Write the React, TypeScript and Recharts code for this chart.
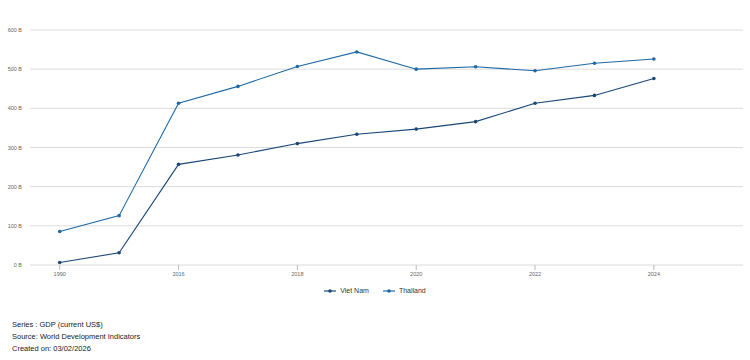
import React from "react";
import { LineChart, Line, XAxis, YAxis, CartesianGrid } from "recharts";

const years = ["1990", "2000", "2016", "2017", "2018", "2019", "2020", "2021", "2022", "2023", "2024", "2025"];
const vietNam: (number | null)[] = [6.5, 31.2, 257, 281, 310, 334, 347, 366, 413, 433, 476, null];
const thailand: (number | null)[] = [85.6, 126, 413, 456, 507, 544, 500, 506, 496, 515, 526, null];
const yTicks = [0, 100, 200, 300, 400, 500, 600];
const footnotes = ["Series : GDP (current US$)", "Source: World Development Indicators", "Created on: 03/02/2026"];

const VN_COLOR = "#1a4775";
const TH_COLOR = "#1f6aa6";

const data = years.map((y, i) => ({ year: y, vn: vietNam[i], th: thailand[i] }));

const FONT = "'Liberation Sans', Arial, sans-serif";

const YTick = (props: any) => {
  const { x, y, payload } = props;
  return (
    <text x={x} y={y} dy={2} textAnchor="end" fontSize={5.5} fill="#666" fontFamily={FONT}>
      {`${payload.value} B`}
    </text>
  );
};

const LegendIcon = ({ color }: { color: string }) => (
  <svg width={12} height={6} style={{ marginRight: 4 }}>
    <line x1={0} y1={3} x2={12} y2={3} stroke={color} strokeWidth={1.2} />
    <circle cx={6} cy={3} r={1.8} fill={color} />
  </svg>
);

export default function App() {
  return (
    <div style={{ position: "absolute", left: 0, top: 0, width: 750, height: 360, background: "#fff", fontFamily: FONT }}>
      <LineChart width={750} height={360} data={data} margin={{ top: 30, right: 7, bottom: 75, left: 0 }}>
        <CartesianGrid horizontal vertical={false} stroke="#dcdcdc" strokeWidth={1} />
        <XAxis
          dataKey="year"
          scale="band"
          interval={1}
          axisLine={false}
          tickLine={{ stroke: "#bbb" }}
          tickSize={5}
          height={20}
          tick={{ fontSize: 5.5, fill: "#666", fontFamily: FONT }}
        />
        <YAxis
          width={30}
          domain={[0, 600]}
          ticks={yTicks}
          axisLine={false}
          tickLine={false}
          tick={<YTick />}
        />
        <Line type="linear" dataKey="vn" name="Viet Nam" stroke={VN_COLOR} strokeWidth={1.1} dot={{ r: 1.8, fill: VN_COLOR, stroke: VN_COLOR, strokeWidth: 0 }} activeDot={false} isAnimationActive={false} />
        <Line type="linear" dataKey="th" name="Thailand" stroke={TH_COLOR} strokeWidth={1.1} dot={{ r: 1.8, fill: TH_COLOR, stroke: TH_COLOR, strokeWidth: 0 }} activeDot={false} isAnimationActive={false} />
      </LineChart>
      <div style={{ position: "absolute", top: 287, left: 0, width: 750, display: "flex", justifyContent: "center", fontSize: 7, color: "#333", alignItems: "center" }}>
        <div style={{ display: "flex", alignItems: "center", marginRight: 14 }}>
          <LegendIcon color={VN_COLOR} />
          <span>Viet Nam</span>
        </div>
        <div style={{ display: "flex", alignItems: "center" }}>
          <LegendIcon color={TH_COLOR} />
          <span>Thailand</span>
        </div>
      </div>
      <div style={{ position: "absolute", top: 319, left: 12, fontSize: 7.5, color: "#222", lineHeight: "12px" }}>
        {footnotes.map((f) => (
          <div key={f}>{f}</div>
        ))}
      </div>
    </div>
  );
}
